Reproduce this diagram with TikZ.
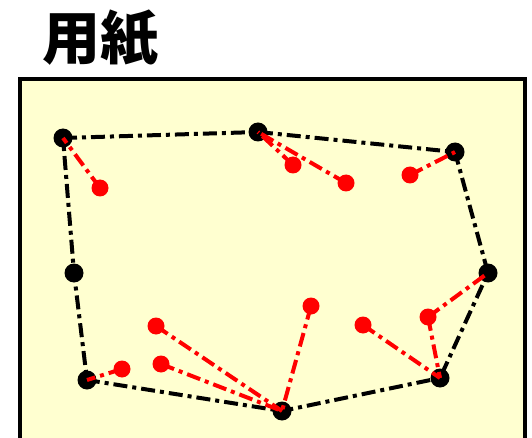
\documentclass[tikz,border=0pt]{standalone}
\usepackage{fontspec}
\newfontfamily\cjk{Noto Sans CJK JP}
\definecolor{paper}{RGB}{255,255,208}
\definecolor{redpt}{RGB}{255,0,0}
\tikzset{
  bdot/.style={circle,fill=black,inner sep=0pt,minimum size=19pt},
  rdot/.style={circle,fill=redpt,inner sep=0pt,minimum size=17pt},
  dashdot/.style={line width=4pt,dash pattern=on 14pt off 5pt on 4pt off 5pt},
  bline/.style={dashdot,black},
  rline/.style={dashdot,redpt},
}
\begin{document}
\begin{tikzpicture}[x=1pt,y=-1pt]
\useasboundingbox (0,0) rectangle (532,438);
\clip (0,0) rectangle (532,438);
\node[font=\cjk\bfseries\fontsize{58}{64}\selectfont,inner sep=0pt] (title) at (100,38) {用紙};
\draw[line width=4pt,fill=paper] (20,79.5) rectangle (524.5,470);
% black points
\coordinate (A) at (63,138);
\coordinate (B) at (258,132);
\coordinate (C) at (455,152);
\coordinate (D) at (488,273);
\coordinate (E) at (440,378);
\coordinate (F) at (282,411);
\coordinate (G) at (87,380);
\coordinate (H) at (74,273);
% red points
\coordinate (r1) at (100,188);
\coordinate (r2) at (293,165);
\coordinate (r3) at (346,183);
\coordinate (r4) at (410,175);
\coordinate (r5) at (428,317);
\coordinate (r6) at (363,325);
\coordinate (r7) at (311,306);
\coordinate (r8) at (156,326);
\coordinate (r9) at (161,364);
\coordinate (r10) at (122,369);
\draw[bline] (A) -- (B) -- (C) -- (D) -- (E) -- (F) -- (G) -- (H) -- cycle;
\foreach \p in {A,B,C,D,E,F,G,H} \node[bdot] (n\p) at (\p) {};
\draw[rline] (r1) -- (nA.center);
\draw[rline] (r2) -- (nB.center);
\draw[rline] (r3) -- (nB.center);
\draw[rline] (r4) -- (nC.center);
\draw[rline] (r5) -- (nD.center);
\draw[rline] (r5) -- (nE.center);
\draw[rline] (r6) -- (nE.center);
\draw[rline] (r7) -- (nF.center);
\draw[rline] (r8) -- (nF.center);
\draw[rline] (r9) -- (nF.center);
\draw[rline] (r10) -- (nG.center);
\foreach \p in {r1,r2,r3,r4,r5,r6,r7,r8,r9,r10} \node[rdot] (m\p) at (\p) {};
\end{tikzpicture}
\end{document}
